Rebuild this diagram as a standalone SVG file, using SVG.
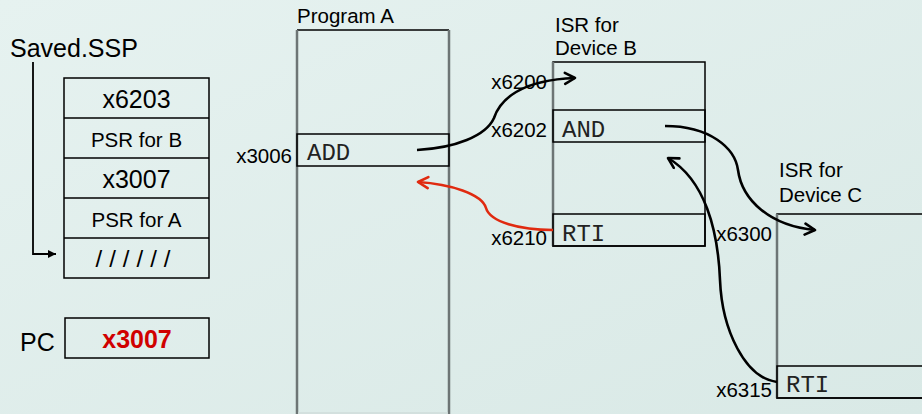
<svg xmlns="http://www.w3.org/2000/svg" width="922" height="414" viewBox="0 0 922 414">
<defs>
<linearGradient id="bg" x1="0" y1="0" x2="1" y2="1">
<stop offset="0" stop-color="#e6f2f0"/>
<stop offset="1" stop-color="#d9e9e6"/>
</linearGradient>
<marker id="ab" markerUnits="userSpaceOnUse" markerWidth="16" markerHeight="16" refX="12" refY="7" orient="auto">
<path d="M2,1.5 L12,7 L2,12.5" fill="none" stroke="#000" stroke-width="2.6" stroke-linecap="round" stroke-linejoin="round"/>
</marker>
<marker id="ar" markerUnits="userSpaceOnUse" markerWidth="16" markerHeight="16" refX="12" refY="7" orient="auto">
<path d="M2,1.5 L12,7 L2,12.5" fill="none" stroke="#e02a10" stroke-width="2.6" stroke-linecap="round" stroke-linejoin="round"/>
</marker>
<marker id="sm" markerUnits="userSpaceOnUse" markerWidth="10" markerHeight="10" refX="8" refY="4" orient="auto">
<path d="M0,0 L8,4 L0,8 Z" fill="#000"/>
</marker>
</defs>
<style>
.t{font-family:"Liberation Sans",Arial,sans-serif;fill:#000}
.m{font-family:"Liberation Mono","Courier New",monospace;font-size:24px;fill:#222}
.box{fill:none;stroke:#000;stroke-width:1.5}
.side{stroke:#6d7575;stroke-width:2.5}
.c{fill:none;stroke:#000;stroke-width:2.6}
</style>
<rect x="0" y="0" width="922" height="414" fill="url(#bg)"/>

<g id="stack">
<text class="t" x="10" y="57" font-size="25">Saved.SSP</text>
<rect class="box" x="64" y="78" width="145" height="200"/>
<line class="box" x1="64" y1="118" x2="209" y2="118"/>
<line class="box" x1="64" y1="158" x2="209" y2="158"/>
<line class="box" x1="64" y1="198" x2="209" y2="198"/>
<line class="box" x1="64" y1="238" x2="209" y2="238"/>
<text class="t" x="136.5" y="108" font-size="25" text-anchor="middle">x6203</text>
<text class="t" x="136.5" y="147" font-size="20.5" text-anchor="middle">PSR for B</text>
<text class="t" x="136.5" y="188" font-size="25" text-anchor="middle">x3007</text>
<text class="t" x="136.5" y="227" font-size="20.5" text-anchor="middle">PSR for A</text>
<text class="t" x="136.5" y="267" font-size="24" text-anchor="middle" letter-spacing="7">//////</text>
</g>

<g id="pc">
<text class="t" x="20" y="351" font-size="25">PC</text>
<rect class="box" x="65" y="318" width="144" height="40"/>
<text class="t" x="137" y="348" font-size="25" font-weight="bold" text-anchor="middle" style="fill:#d00000">x3007</text>
</g>

<g id="programA">
<text class="t" x="297" y="23" font-size="20.5">Program A</text>
<line class="box" x1="297" y1="30" x2="449" y2="30"/>
<line class="side" x1="297" y1="30" x2="297" y2="414"/>
<line class="side" x1="449" y1="30" x2="449" y2="414"/>
<line x1="298" y1="413" x2="448" y2="413" stroke="#cfdcda" stroke-width="1.5"/>
<rect class="box" x="297" y="134" width="152" height="32"/>
<text class="m" x="307" y="160">ADD</text>
<text class="t" x="292" y="163" font-size="20.5" text-anchor="end">x3006</text>
</g>

<g id="isrB">
<text class="t" x="555" y="32" font-size="20.5">ISR for</text>
<text class="t" x="555" y="55" font-size="20.5">Device B</text>
<rect class="box" x="553" y="62" width="152" height="184"/>
<line class="side" x1="553" y1="62" x2="553" y2="246"/>
<rect class="box" x="553" y="110" width="152" height="32"/>
<rect class="box" x="553" y="214" width="152" height="32"/>
<text class="m" x="562" y="137">AND</text>
<text class="m" x="562" y="241">RTI</text>
<text class="t" x="547" y="89" font-size="20.5" text-anchor="end">x6200</text>
<text class="t" x="547" y="137" font-size="20.5" text-anchor="end">x6202</text>
<text class="t" x="547" y="245" font-size="20.5" text-anchor="end">x6210</text>
</g>

<g id="isrC">
<text class="t" x="779" y="177" font-size="20.5">ISR for</text>
<text class="t" x="779" y="202" font-size="20.5">Device C</text>
<rect class="box" x="777" y="214" width="160" height="184"/>
<line class="side" x1="777" y1="214" x2="777" y2="398"/>
<rect class="box" x="777" y="366" width="160" height="32"/>
<text class="m" x="786" y="392">RTI</text>
<text class="t" x="772" y="241" font-size="20.5" text-anchor="end">x6300</text>
<text class="t" x="772" y="397" font-size="20.5" text-anchor="end">x6315</text>
</g>

<g id="connectors">
<path d="M33,62 L33,254 L56,254" fill="none" stroke="#000" stroke-width="1.8" marker-end="url(#sm)"/>
<path class="c" d="M417,150 C455,148 486,136 494,118 C500,100 520,80 575,78" marker-end="url(#ab)"/>
<path d="M553,230 C520,230 490,222 486,208 C482,194 450,184 418,182" fill="none" stroke="#e02a10" stroke-width="2.6" marker-end="url(#ar)"/>
<path class="c" d="M665,126 C710,126 735,148 738,170 C742,200 770,226 815,230" marker-end="url(#ab)"/>
<path class="c" d="M777,382 C745,378 722,330 720,280 C718,230 705,180 668,158" marker-end="url(#ab)"/>
</g>
</svg>
